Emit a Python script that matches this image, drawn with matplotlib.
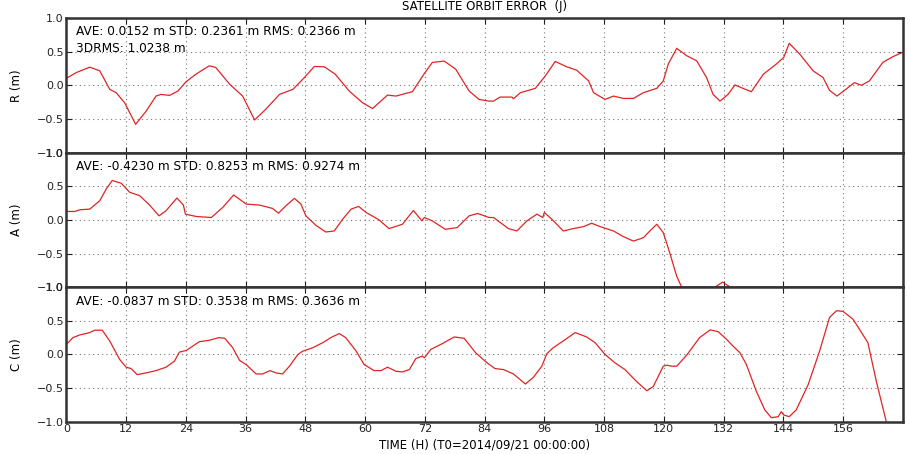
import numpy as np
import matplotlib
matplotlib.use("Agg")
import matplotlib.pyplot as plt

# Radial error (m) vs. hours since T0
r_hours = [0, 2, 4.7, 6.7, 8.7, 10, 11.7, 13.9, 16, 18, 19, 20.7, 22.4, 24, 26, 28.7, 30,
           32.8, 35.4, 37.8, 40, 42.8, 45.5, 47.8, 49.8, 51.8, 54, 56.8, 59.5, 61.5, 64.5,
           66.2, 69.5, 71.9, 73.5, 75.9, 78.2, 80.9, 82.9, 84.9, 85.8, 87.1, 89.5, 89.8,
           91.2, 94.2, 96.2, 98.2, 100.5, 102.5, 104.9, 105.9, 108.2, 109.9, 111.9, 113.9,
           115.9, 118.6, 119.9, 120.9, 122.6, 124.6, 126.6, 128.6, 129.9, 131.3, 132.9,
           134.3, 135.9, 137.6, 140, 142.6, 144.1, 145.2, 147.3, 150, 152, 153.3, 154.8,
           156.3, 158.3, 159.7, 161.3, 164, 166, 168]
r_vals = [0.105, 0.19, 0.27, 0.215, -0.06, -0.11, -0.26, -0.58, -0.385, -0.16, -0.135, -0.15,
          -0.085, 0.05, 0.165, 0.29, 0.265, 0.015, -0.16, -0.515, -0.36, -0.135, -0.06, 0.115,
          0.28, 0.275, 0.165, -0.085, -0.26, -0.345, -0.145, -0.16, -0.095, 0.175, 0.34, 0.36,
          0.24, -0.085, -0.21, -0.235, -0.235, -0.175, -0.175, -0.2, -0.11, -0.045, 0.14,
          0.355, 0.275, 0.225, 0.065, -0.11, -0.21, -0.16, -0.195, -0.195, -0.11, -0.045,
          0.065, 0.315, 0.55, 0.44, 0.365, 0.115, -0.135, -0.235, -0.135, 0.005, -0.045,
          -0.095, 0.165, 0.315, 0.415, 0.625, 0.465, 0.215, 0.115, -0.075, -0.16, -0.075,
          0.04, 0.0, 0.065, 0.34, 0.425, 0.49]

# Along-track error (m)
a_hours = [0, 1.7, 2.7, 4.7, 6.7, 8, 9.2, 11, 12.7, 14.7, 16.7, 18.6, 20, 22.2, 23.5, 23.9,
           26.1, 29.1, 31.4, 33.6, 36.1, 38.8, 41.4, 42.6, 44.1, 45.8, 47.1, 48.1, 50.1, 52.1,
           53.8, 55.5, 57.2, 58.7, 60.2, 62.8, 64.8, 67.5, 69.7, 71.4, 71.9, 73.5, 76.1, 78.5,
           80.9, 82.6, 84.9, 85.8, 88.8, 90.5, 92.5, 94.5, 95.7, 96, 97.5, 99.8, 101.8, 103.9,
           105.5, 107.2, 109.9, 111.9, 113.9, 115.9, 117.2, 118.6, 119.9, 121.2, 122.6, 123.6,
           125, 129, 130.3, 131.8, 133.4, 135, 168]
a_vals = [0.125, 0.125, 0.15, 0.16, 0.285, 0.46, 0.585, 0.545, 0.41, 0.36, 0.22, 0.06, 0.135,
          0.325, 0.22, 0.085, 0.05, 0.035, 0.185, 0.37, 0.235, 0.22, 0.17, 0.1, 0.21, 0.32,
          0.235, 0.06, -0.08, -0.18, -0.165, 0.01, 0.16, 0.2, 0.11, 0.0, -0.13, -0.065, 0.14,
          -0.015, 0.035, -0.015, -0.14, -0.115, 0.06, 0.095, 0.035, 0.035, -0.13, -0.165,
          -0.015, 0.085, 0.035, 0.11, 0.01, -0.165, -0.13, -0.1, -0.05, -0.1, -0.165, -0.25,
          -0.315, -0.265, -0.165, -0.065, -0.19, -0.49, -0.84, -1.0, -1.3, -1.15, -1.0,
          -0.925, -1.0, -1.2, -1.6]

# Cross-track error (m)
c_hours = [0, 1.3, 2.7, 4.7, 5.7, 7.2, 8.7, 10.7, 12, 13, 14.2, 16, 18, 20, 21.7, 22.7, 24.1,
           26.7, 28.7, 30.6, 31.8, 33.4, 34.8, 36.1, 38.1, 39.4, 40.9, 42.1, 43.4, 44.8, 46.5,
           47.5, 49.5, 51.5, 53.1, 54.8, 56.1, 58.2, 59.8, 61.8, 63.2, 64.5, 66.2, 67.5, 68.9,
           70.2, 71.5, 71.9, 73.2, 75.5, 77.9, 79.9, 82.2, 84.5, 86.1, 87.8, 89.8, 92.2, 93.8,
           95.5, 96.5, 97.8, 99.8, 102.2, 104.5, 106.2, 108.2, 110.2, 112.2, 114.5, 116.6,
           117.9, 119.9, 120.6, 121.6, 122.6, 124.6, 127.2, 129.3, 130.9, 132.6, 133.9, 135.3,
           136.6, 138.6, 140.3, 141.6, 143, 143.6, 144.1, 145.2, 146.6, 149, 151.3, 153.3,
           154.7, 156, 158, 159.3, 161, 162.7, 164.7, 166, 168]
c_vals = [0.15, 0.25, 0.29, 0.325, 0.36, 0.36, 0.2, -0.075, -0.19, -0.21, -0.3, -0.275, -0.24,
          -0.19, -0.1, 0.035, 0.06, 0.19, 0.21, 0.25, 0.24, 0.1, -0.09, -0.15, -0.29, -0.29,
          -0.24, -0.275, -0.29, -0.175, 0.0, 0.05, 0.1, 0.175, 0.25, 0.31, 0.25, 0.05, -0.15,
          -0.24, -0.24, -0.19, -0.25, -0.26, -0.225, -0.06, -0.025, -0.05, 0.075, 0.16, 0.26,
          0.24, 0.025, -0.125, -0.21, -0.225, -0.29, -0.44, -0.34, -0.175, 0.01, 0.1, 0.2,
          0.325, 0.26, 0.175, 0.0, -0.125, -0.225, -0.4, -0.54, -0.475, -0.175, -0.16, -0.175,
          -0.175, -0.01, 0.25, 0.365, 0.34, 0.225, 0.125, 0.025, -0.15, -0.55, -0.825, -0.94,
          -0.925, -0.85, -0.9, -0.925, -0.825, -0.45, 0.05, 0.55, 0.65, 0.64, 0.525, 0.375,
          0.175, -0.4, -1.0, -1.3, -1.9]

panel_labels = ["R (m)", "A (m)", "C (m)"]
stats_text = ["AVE: 0.0152 m STD: 0.2361 m RMS: 0.2366 m\n3DRMS: 1.0238 m",
              "AVE: -0.4230 m STD: 0.8253 m RMS: 0.9274 m",
              "AVE: -0.0837 m STD: 0.3538 m RMS: 0.3636 m"]
xtick_hours = list(range(0, 157, 12))

plt.rcParams['font.family'] = ['DejaVu Sans']

fig = plt.figure(figsize=(9.1, 4.54), dpi=100)
left, width, h = 0.073, 0.919, 0.2964
bottoms = [0.6639, 0.3675, 0.0711]
series = [(r_hours, r_vals), (a_hours, a_vals), (c_hours, c_vals)]

axes = []
for i, (xs, ys) in enumerate(series):
    ax = fig.add_axes([left, bottoms[i], width, h], sharex=axes[0] if axes else None)
    ax.plot(xs, ys, color='#e02424', lw=0.9)
    ax.set_xlim(0, 168)
    ax.set_ylim(-1.0, 1.0)
    ax.set_yticks([-1.0, -0.5, 0.0, 0.5, 1.0])
    ax.set_xticks(xtick_hours)
    # light dotted grid like the old classic style
    ax.grid(True, color='#777777', linestyle=(0, (1, 3)), linewidth=0.8)
    ax.tick_params(direction='in', length=4, width=0.8, top=True, right=True,
                   labelsize=8, pad=2, colors='#222222')
    for sp in ax.spines.values():
        sp.set_linewidth(1.8)
        sp.set_color('#333333')
    ax.set_ylabel(panel_labels[i], fontsize=8.5)
    ax.yaxis.set_label_coords(-0.052, 0.5)
    ax.text(0.0115, 0.945, stats_text[i], transform=ax.transAxes, va='top', ha='left',
            fontsize=8.7, linespacing=1.35)
    if i < 2:
        plt.setp(ax.get_xticklabels(), visible=False)
    axes.append(ax)

axes[-1].set_xlabel("TIME (H) (T0=2014/09/21 00:00:00)", fontsize=8.5, labelpad=3)
fig.text(0.532, 0.978, "SATELLITE ORBIT ERROR  (J)", ha='center', va='baseline', fontsize=8.5)

fig.savefig("out.png", dpi=100)
